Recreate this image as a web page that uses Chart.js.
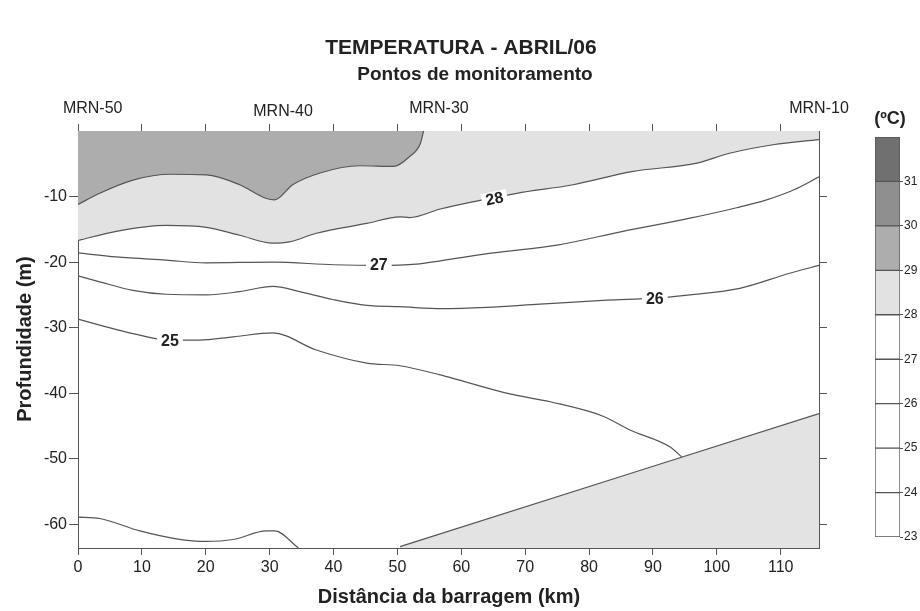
<!DOCTYPE html>
<html>
<head>
<meta charset="utf-8">
<script src="https://cdn.jsdelivr.net/npm/chart.js@4.4.0/dist/chart.umd.min.js"></script>
<style>
  body { margin: 0; background: #fff; }
  #wrap { position: relative; width: 920px; height: 611px; }
  #main { position: absolute; left: 0; top: 0; }
  #bar { position: absolute; left: 860px; top: 100px; }
</style>
</head>
<body>
<div id="wrap">
  <canvas id="main" width="920" height="611"></canvas>
  <canvas id="bar" width="60" height="460"></canvas>
</div>
<script>
const FONT = '"Liberation Sans", Arial, sans-serif';
const INK = '#555';
const TXT = '#222';

// axes
const xTicks = [0, 10, 20, 30, 40, 50, 60, 70, 80, 90, 100, 110];
const yTicks = [-60, -50, -40, -30, -20, -10];
const stationNames = ['MRN-50', 'MRN-40', 'MRN-30', 'MRN-10'];
const stationKm = [2.3, 32.1, 56.5, 116];

// isotherms: [km, depth]
const iso29 = [[0, -11.2], [3.4, -9.5], [8.6, -7.5], [14.4, -6.6], [20.1, -6.7], [25.3, -8.2], [29.5, -10.3],
  [30.8, -10.5], [33.6, -8.2], [37.9, -6.4], [44.1, -5.3], [49.4, -5.4], [51.9, -3.9], [53.6, -1.9], [54.1, 0]];
const iso28 = [[0, -16.7], [6, -15.3], [13.8, -14.4], [20.1, -14.7], [25.3, -15.9], [30.5, -17.1], [33.1, -16.9],
  [37.3, -15.6], [45.2, -14.1], [50.4, -13.1], [51.9, -13.2], [56.7, -11.9], [61.8, -10.8], [68.7, -9.5],
  [77.5, -8.2], [86.7, -6.2], [96.9, -4.9], [102, -3.4], [108.8, -2.1], [116, -1.3]];
const iso27 = [[0, -18.6], [6, -19.2], [13.8, -19.7], [20, -20.1], [30.5, -20], [40, -20.4], [47, -20.5],
  [53, -20.3], [56.7, -19.8], [65, -18.6], [75, -17.4], [85.3, -15.3], [95.8, -13.3], [103.1, -11.7],
  [107.8, -10.5], [112, -9], [116, -7]];
const iso26 = [[0, -22.1], [3.4, -23], [8.6, -24.3], [13.8, -24.9], [20.1, -25], [25.3, -24.5], [30.5, -23.7],
  [34.7, -24.5], [39.9, -25.7], [45.2, -26.6], [50.4, -26.8], [57, -27.1], [64, -26.9], [72.3, -26.4],
  [82.8, -25.8], [90.3, -25.5], [95.8, -25], [103.6, -24], [111.4, -21.7], [116, -20.5]];
const iso25 = [[0, -28.7], [3.4, -29.6], [8.6, -30.9], [14.4, -31.9], [19, -31.9], [24.3, -31.4], [30.5, -30.8],
  [37.3, -33.4], [45.2, -35.4], [50.4, -35.8], [56.7, -37.2], [59.7, -38], [67.6, -40.1], [73.9, -41.3],
  [82.2, -43.5], [86.4, -45.6], [92.7, -48.2], [94.5, -49.7]];
const iso24 = [[0, -58.9], [3.4, -59.1], [9.7, -61], [15.4, -62.2], [20.1, -62.6], [24.3, -62.3], [29.5, -61],
  [30.8, -61], [34.5, -63.6]];
const bottomEdge = [[50.4, -63.4], [116, -43.1]];

const labelText = ['28', '27', '26', '25'];
const labelKm = [65.2, 47.1, 90.3, 14.4];
const labelDepth = [-10.3, -20.4, -25.5, -31.9];
const labelAngle = [-0.2, 0, 0, 0];

// colour scale
const cbLevels = [23, 24, 25, 26, 27, 28, 29, 30, 31, 32];
const cbColors = ['#ffffff', '#ffffff', '#ffffff', '#ffffff', '#ffffff', '#e2e2e2', '#adadad', '#8f8f8f', '#707070'];
const cbTicks = [23, 24, 25, 26, 27, 28, 29, 30, 31];

const toPts = a => a.map(p => ({ x: p[0], y: p[1] }));
function isoLine(points, extra) {
  return Object.assign({
    data: toPts(points), borderColor: INK, borderWidth: 1.2, pointRadius: 0,
    fill: false, tension: 0.4, cubicInterpolationMode: 'monotone'
  }, extra || {});
}

const setTicks = list => scale => { scale.ticks = list.map(v => ({ value: v })); };
const axisGrid = len => ({ drawOnChartArea: false, color: INK, tickLength: len, lineWidth: 1 });

const textPlugin = {
  id: 'texts',
  afterDraw(chart) {
    const ctx = chart.ctx;
    const xs = chart.scales.x, ys = chart.scales.y;
    ctx.save();
    ctx.fillStyle = TXT;
    ctx.textAlign = 'center';
    ctx.textBaseline = 'middle';
    ctx.font = 'bold 21px ' + FONT;
    ctx.fillText('TEMPERATURA - ABRIL/06', 461, 48);
    ctx.font = 'bold 19px ' + FONT;
    ctx.fillText('Pontos de monitoramento', 475, 75);
    ctx.font = 'bold 20px ' + FONT;
    ctx.fillText('Distância da barragem (km)', 449, 597);
    ctx.save();
    ctx.translate(25, 339);
    ctx.rotate(-Math.PI / 2);
    ctx.fillText('Profundidade (m)', 0, 0);
    ctx.restore();

    ctx.font = '16px ' + FONT;
    stationNames.forEach((n, i) => {
      ctx.fillText(n, xs.getPixelForValue(stationKm[i]), i === 1 ? 112 : 109);
    });

    ctx.font = 'bold 16px ' + FONT;
    labelText.forEach((t, i) => {
      const px = xs.getPixelForValue(labelKm[i]);
      const py = ys.getPixelForValue(labelDepth[i]);
      const w = ctx.measureText(t).width + 8;
      ctx.save();
      ctx.translate(px, py);
      ctx.rotate(labelAngle[i]);
      ctx.fillStyle = '#fff';
      ctx.fillRect(-w / 2, -7, w, 14);
      ctx.fillStyle = TXT;
      ctx.fillText(t, 0, 1);
      ctx.restore();
    });
    ctx.restore();
  }
};

new Chart(document.getElementById('main'), {
  type: 'line',
  data: {
    datasets: [
      isoLine(iso24),
      isoLine(iso25),
      isoLine(iso26),
      isoLine(iso27),
      isoLine(iso29, { fill: 'end', backgroundColor: '#adadad' }),
      isoLine(iso28, { fill: 'end', backgroundColor: '#e2e2e2' }),
      isoLine(bottomEdge, { fill: 'start', backgroundColor: '#e3e3e3', tension: 0 })
    ]
  },
  options: {
    responsive: false,
    animation: false,
    layout: { padding: { left: 0, right: 93, top: 0, bottom: 0 } },
    plugins: { legend: { display: false }, tooltip: { enabled: false } },
    scales: {
      x: {
        type: 'linear', position: 'bottom', min: 0, max: 116,
        afterBuildTicks: setTicks(xTicks), afterFit: s => { s.height = 63; },
        grid: axisGrid(7), border: { color: INK, width: 1 },
        ticks: { font: { family: FONT, size: 16 }, color: TXT, padding: 3, maxRotation: 0 }
      },
      x2: {
        type: 'linear', position: 'top', min: 0, max: 116,
        afterBuildTicks: setTicks(xTicks), afterFit: s => { s.height = 131; },
        grid: axisGrid(7), border: { color: INK, width: 1 },
        ticks: { display: false }
      },
      y: {
        type: 'linear', position: 'left', min: -63.6, max: 0,
        afterBuildTicks: setTicks(yTicks), afterFit: s => { s.width = 78; },
        grid: axisGrid(9), border: { color: INK, width: 1 },
        ticks: { font: { family: FONT, size: 16 }, color: TXT, padding: 2 }
      },
      y2: {
        type: 'linear', position: 'right', min: -63.6, max: 0,
        afterBuildTicks: setTicks(yTicks), afterFit: s => { s.width = 8; },
        grid: axisGrid(8), border: { color: INK, width: 1 },
        ticks: { display: false }
      }
    }
  },
  plugins: [textPlugin]
});

const unitPlugin = {
  id: 'unit',
  afterDraw(chart) {
    const ctx = chart.ctx;
    ctx.save();
    ctx.fillStyle = TXT;
    ctx.font = 'bold 18px ' + FONT;
    ctx.textAlign = 'center';
    ctx.textBaseline = 'middle';
    ctx.fillText('(ºC)', 30, 19);
    ctx.restore();
  }
};

new Chart(document.getElementById('bar'), {
  type: 'bar',
  data: {
    labels: [''],
    datasets: cbColors.map((c, i) => ({
      data: [[cbLevels[i], cbLevels[i + 1]]],
      backgroundColor: c, borderColor: INK, borderWidth: 1, borderSkipped: false,
      barPercentage: 1, categoryPercentage: 1, grouped: false
    }))
  },
  options: {
    responsive: false,
    animation: false,
    layout: { padding: { left: 15, right: 0, top: 37, bottom: 23 } },
    plugins: { legend: { display: false }, tooltip: { enabled: false } },
    scales: {
      x: { display: false },
      y: {
        position: 'right', min: 23, max: 32,
        afterBuildTicks: setTicks(cbTicks), afterFit: s => { s.width = 20; },
        grid: { drawOnChartArea: false, color: INK, tickLength: 3 },
        border: { display: false },
        ticks: { font: { family: FONT, size: 12 }, color: TXT, padding: 1 }
      }
    }
  },
  plugins: [unitPlugin]
});
</script>
</body>
</html>
